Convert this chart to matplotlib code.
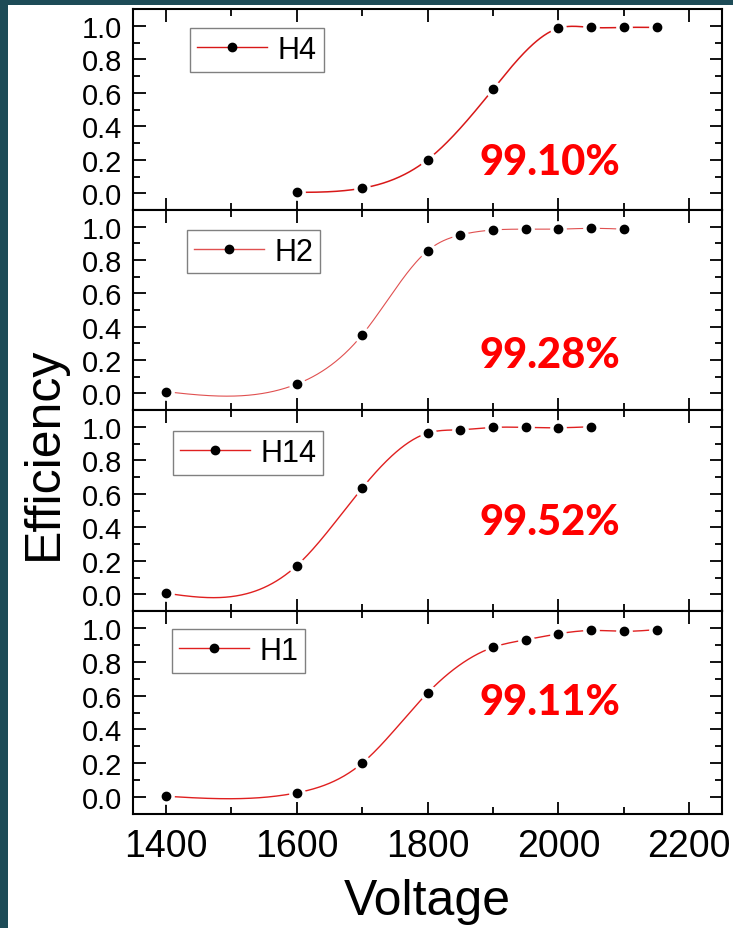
import numpy as np
import matplotlib.pyplot as plt
from matplotlib.patches import Rectangle
from matplotlib.lines import Line2D
from matplotlib.ticker import MultipleLocator, FormatStrFormatter

plt.rcParams['font.family'] = ['Liberation Sans', 'DejaVu Sans']

# efficiency curves per detector (voltage in V, efficiency as fraction)
names = ["H4", "H2", "H14", "H1"]
volt_h4 = [1600, 1700, 1800, 1900, 2000, 2050, 2100, 2150]
eff_h4 = [0.005, 0.03, 0.20, 0.62, 0.985, 0.99, 0.99, 0.99]
volt_h2 = [1400, 1600, 1700, 1800, 1850, 1900, 1950, 2000, 2050, 2100]
eff_h2 = [0.01, 0.055, 0.35, 0.855, 0.95, 0.98, 0.985, 0.985, 0.99, 0.985]
volt_h14 = [1400, 1600, 1700, 1800, 1850, 1900, 1950, 2000, 2050]
eff_h14 = [0.006, 0.17, 0.633, 0.962, 0.982, 0.996, 0.996, 0.994, 1.0]
volt_h1 = [1400, 1600, 1700, 1800, 1900, 1950, 2000, 2050, 2100, 2150]
eff_h1 = [0.005, 0.025, 0.20, 0.615, 0.885, 0.93, 0.965, 0.985, 0.98, 0.99]
plateau = ["99.10%", "99.28%", "99.52%", "99.11%"]

volts = [volt_h4, volt_h2, volt_h14, volt_h1]
effs = [eff_h4, eff_h2, eff_h14, eff_h1]


def natural_spline(x, y, n=400):
    x = np.asarray(x, float)
    y = np.asarray(y, float)
    m = len(x)
    h = np.diff(x)
    A = np.zeros((m, m))
    r = np.zeros(m)
    A[0, 0] = A[-1, -1] = 1.0
    for i in range(1, m - 1):
        A[i, i - 1] = h[i - 1]
        A[i, i] = 2 * (h[i - 1] + h[i])
        A[i, i + 1] = h[i]
        r[i] = 6 * ((y[i + 1] - y[i]) / h[i] - (y[i] - y[i - 1]) / h[i - 1])
    M = np.linalg.solve(A, r)
    xs = np.linspace(x[0], x[-1], n)
    k = np.clip(np.searchsorted(x, xs, side='right') - 1, 0, m - 2)
    hk = h[k]
    a = x[k + 1] - xs
    b = xs - x[k]
    ys = (M[k] * a ** 3 + M[k + 1] * b ** 3) / (6 * hk) \
        + (y[k] / hk - M[k] * hk / 6) * a + (y[k + 1] / hk - M[k + 1] * hk / 6) * b
    return xs, ys


W, H = 733, 929
fig = plt.figure(figsize=(W / 100, H / 100), dpi=100)
fig.patch.set_facecolor('#1d4b57')
fig.patches.append(Rectangle((8 / W, 0), 1, (H - 6) / H, transform=fig.transFigure,
                             facecolor='white', edgecolor='none', zorder=-10))

edges = [(10, 211), (211, 411), (411, 612), (612, 815)]
line_colors = ['#d81818', '#e05050', '#e02020', '#e02020']
line_widths = [1.1, 0.8, 1.0, 1.0]
leg_anchor = [(0.097, 0.905), (0.092, 0.90), (0.068, 0.895), (0.066, 0.91)]
label_y = [0.185, 0.23, 0.43, 0.565]

axes = []
for i, (top, bot) in enumerate(edges):
    ax = fig.add_axes([133 / W, 1 - bot / H, 589 / W, (bot - top) / H])
    axes.append(ax)
    xs, ys = natural_spline(volts[i], effs[i])
    ax.plot(xs, ys, color=line_colors[i], lw=line_widths[i], zorder=2)
    ax.plot(volts[i], effs[i], 'o', ms=11, color='white', mec='white', zorder=3)
    ax.plot(volts[i], effs[i], 'o', ms=6, color='black', mec='black', zorder=4)

    ax.set_xlim(1350, 2250)
    ax.set_ylim(-0.1, 1.1)
    ax.xaxis.set_major_locator(MultipleLocator(200))
    ax.xaxis.set_minor_locator(MultipleLocator(100))
    ax.yaxis.set_major_locator(MultipleLocator(0.2))
    ax.yaxis.set_minor_locator(MultipleLocator(0.1))
    ax.yaxis.set_major_formatter(FormatStrFormatter('%.1f'))
    ax.tick_params(which='both', direction='in', top=True, right=True, width=1.3)
    ax.tick_params(which='major', length=9)
    ax.tick_params(which='minor', length=5)
    ax.tick_params(axis='y', labelsize=21, pad=8)
    ax.tick_params(axis='x', labelsize=27, pad=10)
    if i < 3:
        ax.tick_params(axis='x', labelbottom=False)
    for s in ax.spines.values():
        s.set_linewidth(1.5)

    handle = Line2D([], [], color=line_colors[i], lw=1.0, marker='o', ms=6,
                    mfc='black', mec='black')
    leg = ax.legend([handle], [names[i]], loc='upper left', bbox_to_anchor=leg_anchor[i],
                    borderaxespad=0, fontsize=22, fancybox=False, framealpha=1,
                    edgecolor='#808080', borderpad=0.22, handlelength=2.3,
                    handletextpad=0.35)
    leg.get_frame().set_linewidth(1.0)

    ax.text(1987, label_y[i], plateau[i], color='#ff0000', fontsize=30,
            fontweight='black', family=['Lato', 'DejaVu Sans'],
            ha='center', va='center', zorder=5)

axes[-1].set_xlabel("Voltage", fontsize=36, labelpad=10)
fig.text(44 / W, 1 - 453 / H, "Efficiency", fontsize=36, rotation=90,
         ha='center', va='center')

fig.savefig("out.png", dpi=100, facecolor=fig.get_facecolor())
